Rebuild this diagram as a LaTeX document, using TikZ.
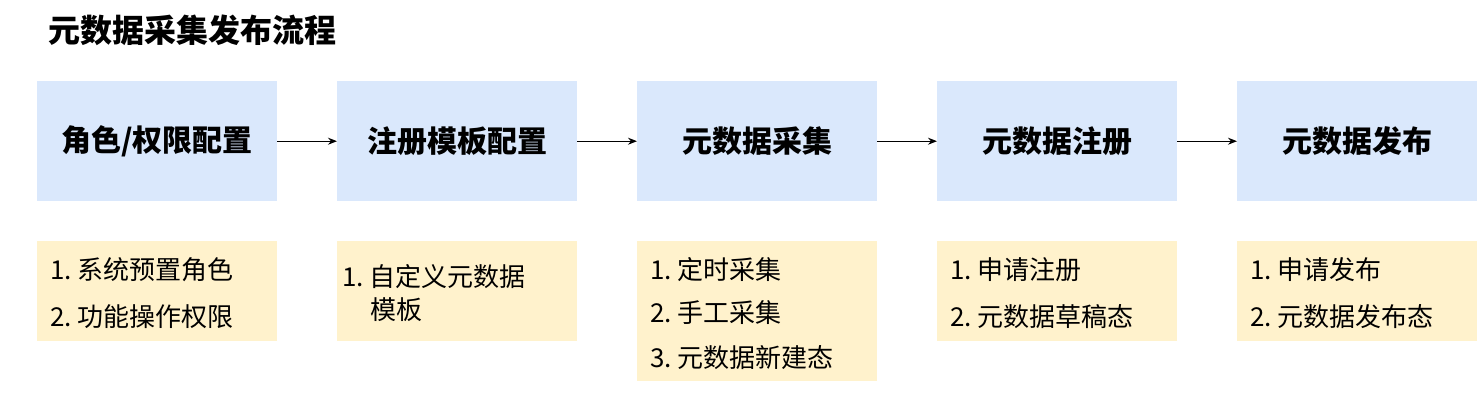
\documentclass[tikz,border=0pt]{standalone}
\usepackage{fontspec}
\setmainfont{Noto Sans CJK SC}
\usetikzlibrary{arrows.meta}
\definecolor{bl}{HTML}{DAE8FC}
\definecolor{yl}{HTML}{FFF2CC}
\begin{document}
\begin{tikzpicture}[x=1pt,y=-1pt,
 stepbox/.style={fill=bl,minimum width=240pt,minimum height=120pt,anchor=north west,font=\fontsize{30}{36}\selectfont\bfseries,inner sep=0pt},
 lst/.style={fill=yl,minimum width=240pt,anchor=north west,inner sep=0pt},
 it/.style={anchor=west,font=\fontsize{26}{30}\selectfont,inner sep=0pt},
 arr/.style={-{Stealth[length=9pt,width=7pt]},line width=1.2pt}]
\useasboundingbox (0,0) rectangle (1478,408);
\node[anchor=west,font=\fontsize{32}{38}\selectfont\bfseries,inner sep=0pt] (title) at (48,30) {元数据采集发布流程};
\node[stepbox] (s1) at (37,81) {角色/权限配置};
\node[stepbox] (s2) at (337,81) {注册模板配置};
\node[stepbox] (s3) at (637,81) {元数据采集};
\node[stepbox] (s4) at (937,81) {元数据注册};
\node[stepbox] (s5) at (1237,81) {元数据发布};
\foreach \a/\b in {1/2,2/3,3/4,4/5}{\draw[arr] (s\a.east) -- (s\b.west);}
\node[lst,minimum height=100pt] (l1) at (37,241) {};
\node[lst,minimum height=100pt] (l2) at (337,241) {};
\node[lst,minimum height=140pt] (l3) at (637,241) {};
\node[lst,minimum height=100pt] (l4) at (937,241) {};
\node[lst,minimum height=100pt] (l5) at (1237,241) {};
\node[it] (a1) at (50,270) {1.\ 系统预置角色};
\node[it] (a2) at (50,317) {2.\ 功能操作权限};
\node[it] (b1) at (342,277) {1.\ 自定义元数据};
\node[it] (b2) at (370,310) {模板};
\node[it] (c1) at (650,270) {1.\ 定时采集};
\node[it] (c2) at (650,313) {2.\ 手工采集};
\node[it] (c3) at (650,358) {3.\ 元数据新建态};
\node[it] (d1) at (950,270) {1.\ 申请注册};
\node[it] (d2) at (950,317) {2.\ 元数据草稿态};
\node[it] (e1) at (1250,270) {1.\ 申请发布};
\node[it] (e2) at (1250,317) {2.\ 元数据发布态};
\end{tikzpicture}
\end{document}
